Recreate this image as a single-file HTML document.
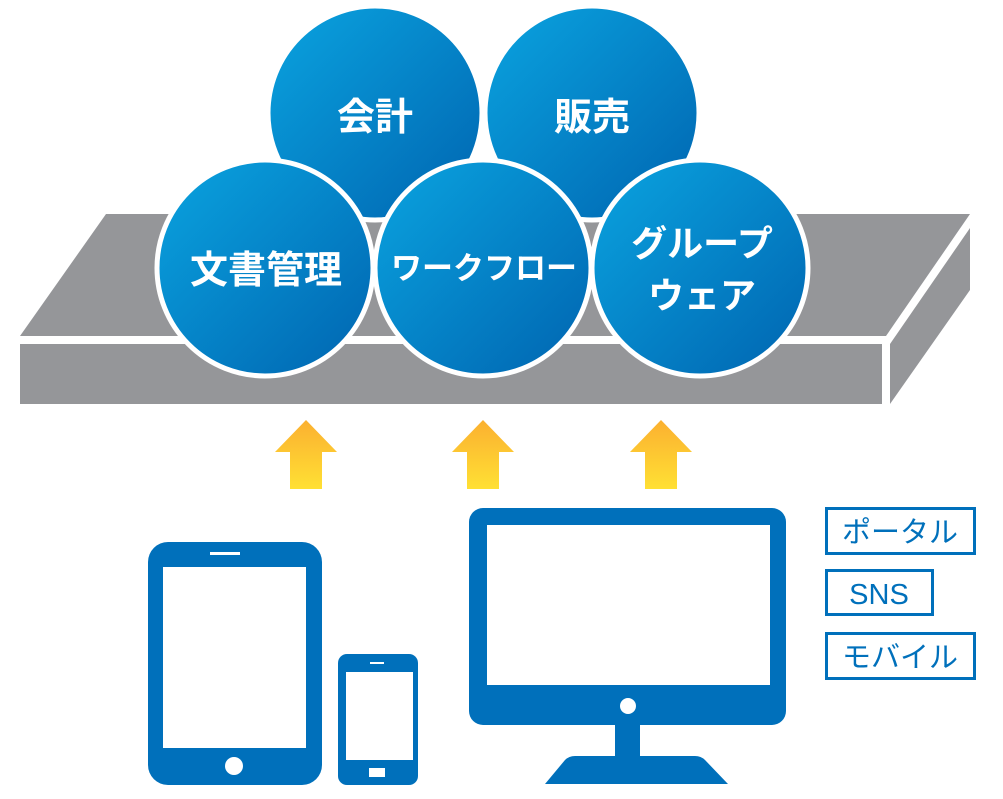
<!DOCTYPE html>
<html><head><meta charset="utf-8"><style>
html,body{margin:0;padding:0;background:#fff;}
svg{display:block;}
text{font-family:"Liberation Sans","Noto Sans CJK JP",sans-serif;}
</style></head><body>
<svg width="1003" height="799" viewBox="0 0 1003 799" xmlns="http://www.w3.org/2000/svg">
<defs>
<linearGradient id="b" x1="0" y1="0" x2="1" y2="1">
<stop offset="0" stop-color="#0aa4e0"/><stop offset="1" stop-color="#0064b0"/>
</linearGradient>
<linearGradient id="y" x1="0" y1="0" x2="0" y2="1">
<stop offset="0" stop-color="#fbb030"/><stop offset="1" stop-color="#ffe034"/>
</linearGradient>
</defs>
<!-- slab -->
<polygon points="20,336 106,214 970,214 886,336" fill="#959699"/>
<rect x="20" y="344" width="862" height="60" fill="#959699"/>
<polygon points="890,344 970,228 970,290 890,404" fill="#959699"/>
<!-- circles -->
<g stroke="#fff" stroke-width="5" fill="url(#b)">
<circle cx="375" cy="113" r="107"/>
<circle cx="592" cy="113" r="107"/>
<circle cx="265" cy="268" r="108"/>
<circle cx="483" cy="268" r="108"/>
<circle cx="700" cy="268" r="108"/>
</g>
<g fill="#fff" font-weight="bold" text-anchor="middle">
<text x="375" y="130" font-size="38">会計</text>
<text x="592" y="130" font-size="38">販売</text>
<text x="266" y="283" font-size="38">文書管理</text>
<text x="484" y="279" font-size="31">ワークフロー</text>
<text x="702" y="256" font-size="36">グループ</text>
<text x="702" y="308" font-size="36">ウェア</text>
</g>
<!-- arrows -->
<g fill="url(#y)">
<polygon points="306,420 337,452 322,452 322,489 290,489 290,452 275,452"/>
<polygon points="483,420 514,452 499,452 499,489 467,489 467,452 452,452"/>
<polygon points="661,420 692,452 677,452 677,489 645,489 645,452 630,452"/>
</g>
<!-- tablet -->
<rect x="148" y="542" width="174" height="243" rx="20" fill="#0070bb"/>
<rect x="163" y="567" width="143" height="181" fill="#fff"/>
<rect x="210" y="552" width="30" height="3" fill="#fff"/>
<circle cx="234" cy="766" r="9" fill="#fff"/>
<!-- phone -->
<rect x="338" y="654" width="80" height="131" rx="9" fill="#0070bb"/>
<rect x="346" y="672" width="67" height="88" fill="#fff"/>
<rect x="370" y="662" width="14" height="2" fill="#fff"/>
<rect x="369" y="768" width="16" height="9" fill="#fff"/>
<!-- monitor -->
<rect x="469" y="508" width="317" height="217" rx="14" fill="#0070bb"/>
<rect x="487" y="525" width="283" height="160" fill="#fff"/>
<circle cx="628" cy="706" r="8" fill="#fff"/>
<rect x="615" y="724" width="25" height="35" fill="#0070bb"/>
<path d="M545,784 L565,760 Q569,756 575,756 L695,756 Q701,756 705,760 L728,784 Z" fill="#0070bb"/>
<!-- labels -->
<g fill="none" stroke="#0070bb" stroke-width="3">
<rect x="826.5" y="508.5" width="148" height="45"/>
<rect x="826.5" y="570.5" width="106" height="44"/>
<rect x="826.5" y="633.5" width="148" height="45"/>
</g>
<g fill="#0070bb" font-size="29" text-anchor="middle">
<text x="900" y="542">ポータル</text>
<text x="879" y="604">SNS</text>
<text x="900" y="667">モバイル</text>
</g>
</svg>
</body></html>
